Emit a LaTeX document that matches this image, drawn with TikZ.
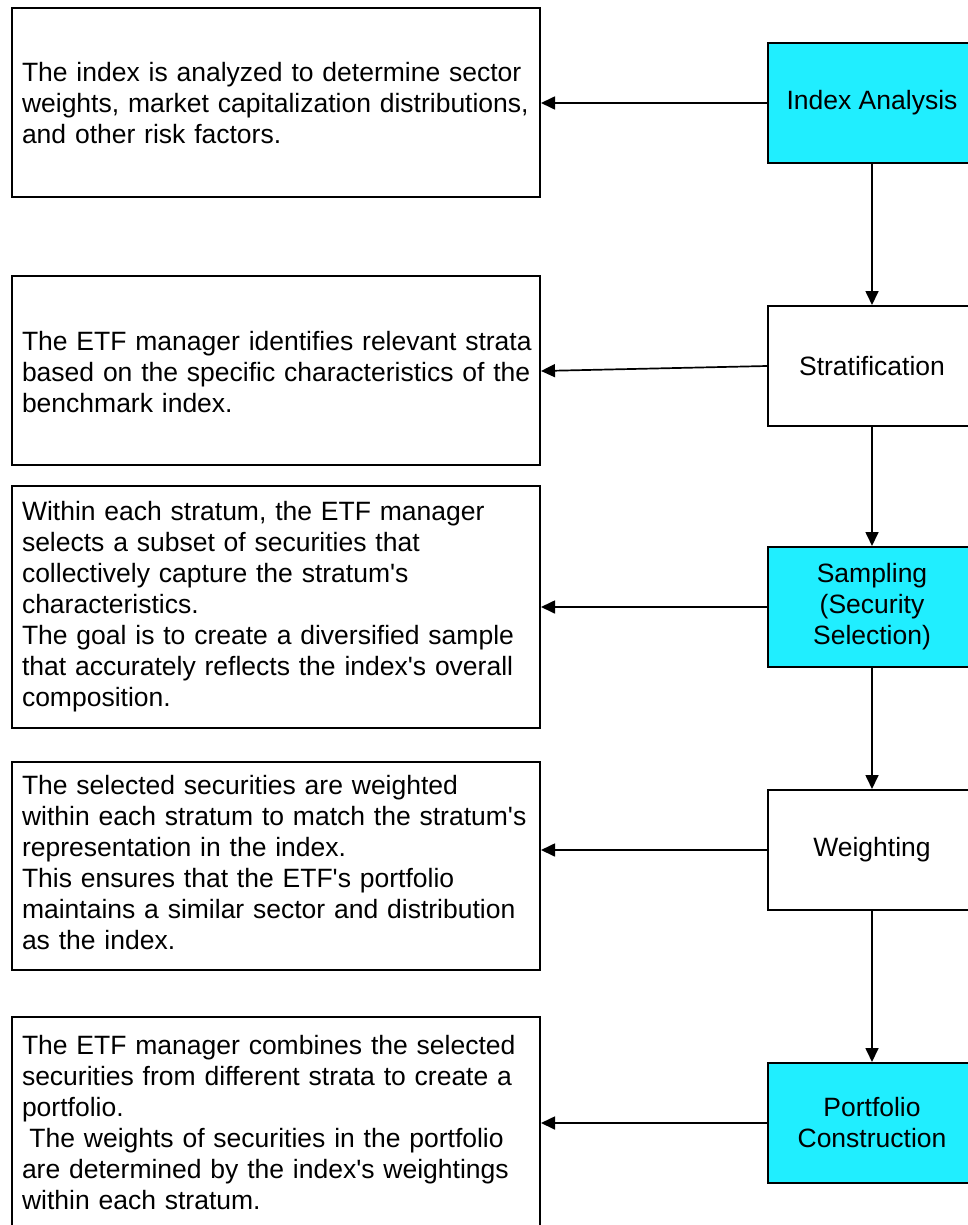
\documentclass[tikz,border=0pt]{standalone}
\usepackage{fontspec}
\setmainfont{Liberation Sans}
\usetikzlibrary{arrows.meta}
\definecolor{stepcyan}{RGB}{32,238,255}
\newcommand{\apos}{\textquotesingle}
% #1: vertical adjustment of the text block (negative values lower it)
\newcommand{\lines}[2][0pt]{\vspace*{#1}\begin{tabular}{@{}l@{}}#2\end{tabular}}
\tikzset{
  desc/.style={draw=black, line width=2pt, fill=white, text width=508pt,
    inner xsep=10pt, inner ysep=0pt, align=left, anchor=center,
    font=\fontsize{26.5}{31}\selectfont},
  stage/.style={draw=black, line width=2pt, minimum width=208pt,
    minimum height=120pt, inner sep=0pt, align=center,
    font=\fontsize{26.5}{31}\selectfont},
  hot/.style={stage, fill=stepcyan},
  plain/.style={stage, fill=white},
  flow/.style={line width=1.7pt, -{Triangle[length=14pt,width=13pt]}}
}
\begin{document}
\begin{tikzpicture}[x=1pt,y=-1pt]
\useasboundingbox (0,0) rectangle (968,1225);
\clip (0,0) rectangle (968,1225);
\fill[white] (0,0) rectangle (968,1225);

% process stages on the right
\node[hot]   (ia) at (872,103)  {Index Analysis};
\node[plain] (st) at (872,366)  {Stratification};
\node[hot]   (sa) at (872,607)  {Sampling\\(Security\\Selection)};
\node[plain] (we) at (872,850)  {Weighting};
\node[hot]   (pc) at (872,1123) {Portfolio\\Construction};

% explanations on the left
\node[desc, minimum height=189pt] (d1) at (276,102.5)
  {\lines[-8pt]{The index is analyzed to determine sector\\weights, market capitalization distributions,\\and other risk factors.}};
\node[desc, minimum height=189pt] (d2) at (276,370.5)
  {\lines[-10pt]{The ETF manager identifies relevant strata\\based on the specific characteristics of the\\benchmark index.}};
\node[desc, minimum height=242pt] (d3) at (276,607)
  {\lines{Within each stratum, the ETF manager\\selects a subset of securities that\\collectively capture the stratum\apos s\\characteristics.\\The goal is to create a diversified sample\\that accurately reflects the index\apos s overall\\composition.}};
\node[desc, minimum height=208pt] (d4) at (276,866)
  {\lines{The selected securities are weighted\\within each stratum to match the stratum\apos s\\representation in the index.\\This ensures that the ETF\apos s portfolio\\maintains a similar sector and distribution\\as the index.}};
\node[desc, minimum height=211pt] (d5) at (276,1122.5)
  {\lines[-6pt]{The ETF manager combines the selected\\securities from different strata to create a\\portfolio.\\\hspace*{0.28em}The weights of securities in the portfolio\\are determined by the index\apos s weightings\\within each stratum.}};

% sequence of stages
\draw[flow] (ia.south) -- (st.north);
\draw[flow] (st.south) -- (sa.north);
\draw[flow] (sa.south) -- (we.north);
\draw[flow] (we.south) -- (pc.north);

% links from each stage to its explanation
\draw[flow] (ia.west) -- (ia.west -| d1.east);
\draw[flow] (st.west) -- ([yshift=-5pt]st.west -| d2.east);
\draw[flow] (sa.west) -- (sa.west -| d3.east);
\draw[flow] (we.west) -- (we.west -| d4.east);
\draw[flow] (pc.west) -- (pc.west -| d5.east);
\end{tikzpicture}
\end{document}
